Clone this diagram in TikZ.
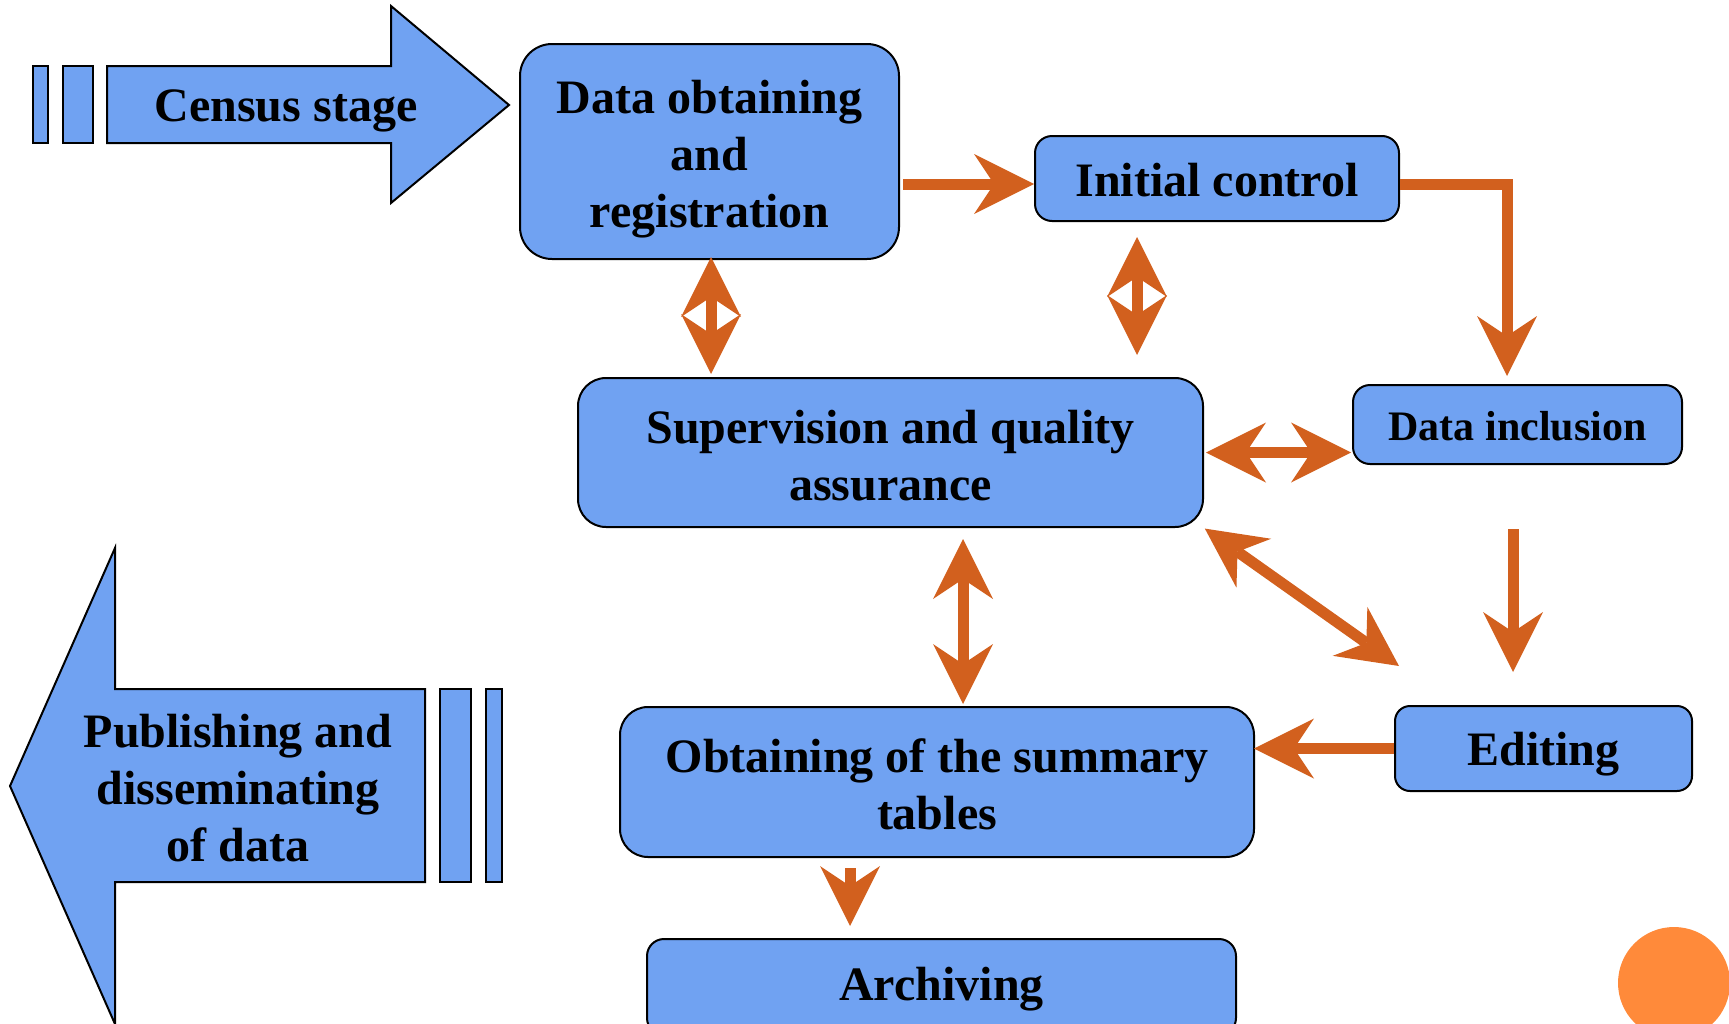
\documentclass[tikz,border=0pt]{standalone}
\usepackage{fontspec}
\setmainfont{Liberation Serif}
\usetikzlibrary{arrows.meta}
\definecolor{boxblue}{HTML}{70A2F2}
\definecolor{arrorange}{HTML}{D2601E}
\definecolor{dotorange}{HTML}{FF8A3A}
\tikzset{
  bigtip/.tip={Stealth[length=60pt,width=60pt,inset=20pt,line width=0pt]},
  box/.style={draw=black, line width=2pt, fill=boxblue, inner sep=0pt},
  bigarrow/.style={draw=black, line width=2pt, fill=boxblue},
  lbl/.style={align=center, inner sep=0pt, font=\bfseries\fontsize{48}{57}\selectfont},
  arr/.style={draw=arrorange, line width=11pt, -bigtip},
  dbl/.style={draw=arrorange, line width=11pt, bigtip-bigtip}
}
\begin{document}
\begin{tikzpicture}[x=1pt,y=-1pt]
\useasboundingbox (0,0) rectangle (1729,1023);
\clip (0,0) rectangle (1729,1023);

% Census stage arrow
\draw[bigarrow] (33,66) rectangle (48,143);
\draw[bigarrow] (63,66) rectangle (93,143);
\draw[bigarrow] (107,66) -- (391,66) -- (391,6) -- (509,105) -- (391,203) -- (391,143) -- (107,143) -- cycle;
\node[lbl] (census) at (286,111) {Census stage};

% Publishing arrow
\draw[bigarrow] (425,689) -- (115,689) -- (115,548) -- (10,786) -- (115,1024) -- (115,882) -- (425,882) -- cycle;
\draw[bigarrow] (440,689) rectangle (471,882);
\draw[bigarrow] (486,689) rectangle (502,882);
\node[lbl] (publ) at (238,788) {Publishing and\\disseminating\\of data};

% Boxes
\node[box, rounded corners=32pt, minimum width=379pt, minimum height=215pt] (dob) at (709.5,151.5) {};
\node[box, rounded corners=17pt, minimum width=364pt, minimum height=85pt] (ic) at (1217,178.5) {};
\node[box, rounded corners=17pt, minimum width=329pt, minimum height=79pt] (di) at (1517.5,424.5) {};
\node[box, rounded corners=28pt, minimum width=625pt, minimum height=149pt] (sup) at (890.5,452.5) {};
\node[box, rounded corners=28pt, minimum width=634pt, minimum height=150pt] (obt) at (937,782) {};
\node[box, rounded corners=15pt, minimum width=297pt, minimum height=85pt] (ed) at (1543.5,748.5) {};
\node[box, rounded corners=17pt, minimum width=589pt, minimum height=96pt] (arc) at (941.5,987) {};

% Box texts
\node[lbl] (dobtxt) at ([yshift=-7.5pt]dob.center) {Data obtaining\\and\\registration};
\node[lbl] (ictxt) at ([yshift=-1.5pt]ic.center) {Initial control};
\node[lbl, font=\bfseries\fontsize{42}{50}\selectfont] (ditxt) at ([yshift=-1.5pt]di.center) {Data inclusion};
\node[lbl] (suptxt) at ([yshift=-3pt]sup.center) {Supervision and quality\\assurance};
\node[lbl] (obttxt) at ([yshift=-2.5pt]obt.center) {Obtaining of the summary\\tables};
\node[lbl] (edtxt) at ([yshift=-5.5pt]ed.center) {Editing};
\node[lbl] (arctxt) at ([yshift=-2pt]arc.center) {Archiving};

% Connectors
\draw[arr, shorten <=3pt] ([yshift=-5.5pt]dob.east |- ic.west) -- ([yshift=-5.5pt]ic.west);
\draw[arr, shorten >=8pt] ([yshift=-5.5pt]ic.east) -| ([xshift=-10.5pt]di.north);
\draw[dbl, shorten <=15pt, shorten >=22pt] ([xshift=-80pt]ic.south) -- ([xshift=-80pt]ic.south |- sup.north);
\draw[dbl, shorten <=-3pt, shorten >=3pt] ([xshift=1.5pt]dob.south) -- ([xshift=1.5pt]dob.south |- sup.north);
\draw[dbl, shorten <=2pt, shorten >=1pt] (sup.east) -- (sup.east -| di.west);
\coordinate (diagend) at (1399,666);
\draw[dbl, shorten <=1pt] (sup.south east) -- (diagend);
\draw[arr, shorten <=64pt, shorten >=33pt] ([xshift=-4.5pt]di.south) -- ([xshift=-4.5pt]di.south |- ed.north);
\draw[dbl, shorten <=11pt, shorten >=2pt] ([xshift=72.5pt]sup.south) -- ([xshift=72.5pt]sup.south |- obt.north);
\draw[arr, shorten >=-1pt] (ed.west) -- (ed.west -| obt.east);
\draw[arr, shorten <=10pt, shorten >=12pt] ([xshift=-87pt]obt.south) -- ([xshift=-87pt]obt.south |- arc.north);

% Decorative dot
\fill[dotorange] (1674,983) circle[radius=56pt];
\end{tikzpicture}
\end{document}
